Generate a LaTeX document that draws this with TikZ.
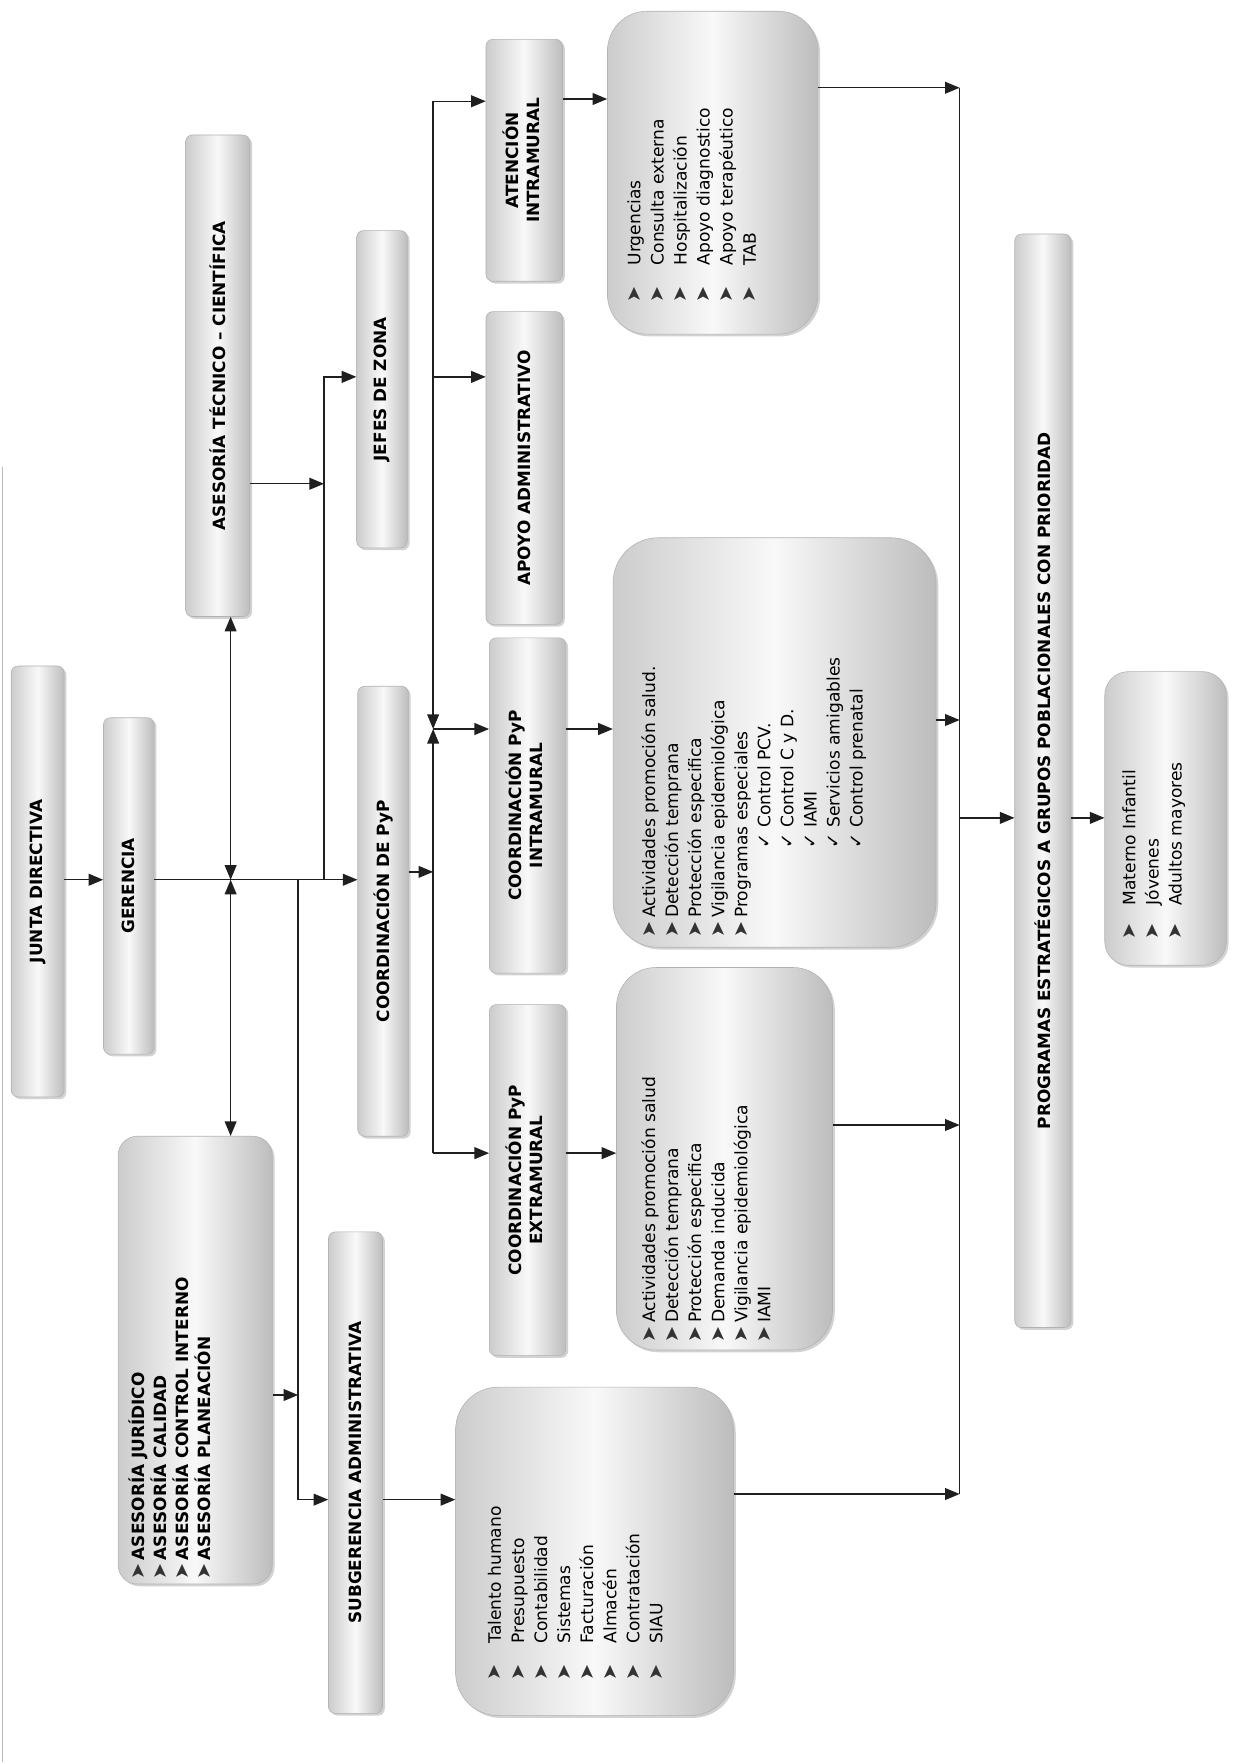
\documentclass[tikz,border=0pt]{standalone}
\usepackage{fontspec}
\setmainfont{DejaVu Sans}
\usepackage{graphicx}
\usetikzlibrary{arrows.meta,shadows}
\newcommand\hfont{\fontsize{15}{19}\selectfont\bfseries}
\newcommand\lfont{\fontsize{15.2}{20.5}\selectfont}
\newcommand\blt{\makebox[12pt][c]{\fontsize{17}{17}\selectfont\color{black!80}➤}}
\newcommand\chk{\makebox[12pt][c]{\fontsize{16}{16}\selectfont ✓}}
\begin{document}
\begin{tikzpicture}[x=1pt,y=-1pt,
 hbox/.style={draw=gray!60, line width=0.5pt, rounded corners=6pt, left color=gray!40, right color=gray!52, middle color=gray!5, inner sep=0pt, drop shadow={shadow xshift=2pt,shadow yshift=-2pt,opacity=0.35}},
 lbox/.style={hbox, rounded corners=#1},
 conn/.style={line width=1.3pt, black!88, -{Triangle[length=13pt,width=10.5pt]}},
 conn2/.style={line width=1.3pt, black!88, {Triangle[length=13pt,width=10.5pt]}-{Triangle[length=13pt,width=10.5pt]}},
 plain/.style={line width=1.3pt, black!88},
 txt/.style={anchor=south west, inner sep=0pt},
]
\fill[white] (0,0) rectangle (1097,1568);
\useasboundingbox (0,0) rectangle (1097,1568);
\draw[gray!55, line width=0.8pt] (2,415) -- (2,1566);

% header boxes
\node[hbox, minimum width=47pt, minimum height=383pt] (jd) at (33.5,783.5) {\rotatebox{90}{\hfont JUNTA DIRECTIVA}};
\node[hbox, minimum width=45pt, minimum height=299pt] (ger) at (114.5,787.5) {\rotatebox{90}{\hfont GERENCIA}};
\node[hbox, minimum width=57pt, minimum height=428pt] (atc) at (193.5,334) {\rotatebox{90}{\hfont ASESORÍA TÉCNICO – CIENTÍFICA}};
\node[hbox, minimum width=45pt, minimum height=282pt] (jz) at (339.5,346) {\rotatebox{90}{\hfont JEFES DE ZONA}};
\node[hbox, minimum width=45pt, minimum height=400pt] (cdp) at (340.5,810) {\rotatebox{90}{\hfont COORDINACIÓN DE PyP}};
\node[hbox, minimum width=48pt, minimum height=428pt] (sub) at (316,1309) {\rotatebox{90}{\hfont SUBGERENCIA ADMINISTRATIVA}};
\node[hbox, minimum width=68pt, minimum height=215pt] (ati) at (466,142.5) {\rotatebox{90}{\hfont\begin{tabular}{@{}c@{}}ATENCIÓN\\INTRAMURAL\end{tabular}}};
\node[hbox, minimum width=68pt, minimum height=278pt] (apo) at (466,416) {\rotatebox{90}{\hfont APOYO ADMINISTRATIVO}};
\node[hbox, minimum width=68pt, minimum height=298pt] (cpi) at (469,716) {\rotatebox{90}{\hfont\begin{tabular}{@{}c@{}}COORDINACIÓN PyP\\INTRAMURAL\end{tabular}}};
\node[hbox, minimum width=68pt, minimum height=312pt] (cpe) at (469,1049) {\rotatebox{90}{\hfont\begin{tabular}{@{}c@{}}COORDINACIÓN PyP\\EXTRAMURAL\end{tabular}}};
\node[hbox, minimum width=50pt, minimum height=972pt] (prog) at (927,694) {\rotatebox{90}{\hfont PROGRAMAS ESTRATÉGICOS A GRUPOS POBLACIONALES CON PRIORIDAD}};

% list boxes
\node[lbox=17pt, minimum width=137pt, minimum height=398pt] (ase) at (173.5,1209) {};
\node[lbox=35pt, minimum width=187pt, minimum height=287pt] (urg) at (633.5,153.5) {};
\node[lbox=40pt, minimum width=287pt, minimum height=364pt] (intl) at (688.5,660) {};
\node[lbox=35pt, minimum width=192pt, minimum height=340pt] (extl) at (644,1030) {};
\node[lbox=38pt, minimum width=247pt, minimum height=292pt] (tal) at (528.5,1379) {};
\node[lbox=21pt, minimum width=108pt, minimum height=261pt] (mat) at (1036,727.5) {};

% list texts
\node[txt] (aset) at (114,1403) {\rotatebox{90}{\fontsize{15}{19.5}\selectfont\bfseries\begin{tabular}{@{}l@{}}
\blt\hspace*{4pt}ASESORÍA JURÍDICO\\
\blt\hspace*{4pt}ASESORÍA CALIDAD\\
\blt\hspace*{4pt}ASESORÍA CONTROL INTERNO\\
\blt\hspace*{4pt}ASESORÍA PLANEACIÓN\end{tabular}}};
\node[txt] (urgt) at (554.75,268) {\rotatebox{90}{\lfont\begin{tabular}{@{}l@{}}
\blt\hspace*{20pt}Urgencias\\
\blt\hspace*{20pt}Consulta externa\\
\blt\hspace*{20pt}Hospitalización\\
\blt\hspace*{20pt}Apoyo diagnostico\\
\blt\hspace*{20pt}Apoyo terapéutico\\
\blt\hspace*{20pt}TAB\end{tabular}}};
\node[txt] (intt) at (567.75,832) {\rotatebox{90}{\lfont\begin{tabular}{@{}l@{}}
\blt\hspace*{4pt}Actividades promoción salud.\\
\blt\hspace*{4pt}Detección temprana\\
\blt\hspace*{4pt}Protección especifica\\
\blt\hspace*{4pt}Vigilancia epidemiológica\\
\blt\hspace*{4pt}Programas especiales\\
\hspace*{78pt}\chk\hspace*{6pt}Control PCV.\\
\hspace*{78pt}\chk\hspace*{6pt}Control C y D.\\
\hspace*{78pt}\chk\hspace*{6pt}IAMI\\
\hspace*{78pt}\chk\hspace*{6pt}Servicios amigables\\
\hspace*{78pt}\chk\hspace*{6pt}Control prenatal\end{tabular}}};
\node[txt] (extt) at (567.75,1192) {\rotatebox{90}{\lfont\begin{tabular}{@{}l@{}}
\blt\hspace*{4pt}Actividades promoción salud\\
\blt\hspace*{4pt}Detección temprana\\
\blt\hspace*{4pt}Protección especifica\\
\blt\hspace*{4pt}Demanda inducida\\
\blt\hspace*{4pt}Vigilancia epidemiológica\\
\blt\hspace*{4pt}IAMI\end{tabular}}};
\node[txt] (talt) at (430.75,1493) {\rotatebox{90}{\lfont\begin{tabular}{@{}l@{}}
\blt\hspace*{20pt}Talento humano\\
\blt\hspace*{20pt}Presupuesto\\
\blt\hspace*{20pt}Contabilidad\\
\blt\hspace*{20pt}Sistemas\\
\blt\hspace*{20pt}Facturación\\
\blt\hspace*{20pt}Almacén\\
\blt\hspace*{20pt}Contratación\\
\blt\hspace*{20pt}SIAU\end{tabular}}};
\node[txt] (matt) at (994.75,834) {\rotatebox{90}{\lfont\begin{tabular}{@{}l@{}}
\blt\hspace*{17pt}Materno Infantil\\
\blt\hspace*{17pt}Jóvenes\\
\blt\hspace*{17pt}Adultos mayores\end{tabular}}};

% junction coordinates
\coordinate (m0) at (205,782);
\coordinate (mj) at (288,782);
\coordinate (ms) at (265,782);
\coordinate (jz0) at (288,335);
\coordinate (a1) at (288,430);
\coordinate (a2) at (265,1240);
\coordinate (s1) at (265,1333);
\coordinate (c1) at (385,775);
\coordinate (v1) at (385,90);
\coordinate (v3) at (385,335);
\coordinate (vj) at (385,648);
\coordinate (v2) at (385,1025);
\coordinate (u0) at (500,88);
\coordinate (r1) at (853,78);
\coordinate (r3) at (853,640);
\coordinate (rp) at (853,727);
\coordinate (r4) at (853,1000);
\coordinate (r2) at (853,1328);

% connectors
\draw[conn] (jd.east |- m0) -- (ger.west |- m0);
\draw[conn] (ger.east |- m0) -- (cdp.west |- m0);
\draw[conn2] (atc.south -| m0) -- (m0);
\draw[conn2] (m0) -- (ase.north -| m0);
\draw[conn] (mj) -- (jz0) -- (jz.west |- jz0);
\draw[conn] (atc.east |- a1) -- (a1);
\draw[conn] (ms) -- (s1) -- (sub.west |- s1);
\draw[conn] (ase.east |- a2) -- (a2);
\draw[conn] (sub.east |- s1) -- (tal.west |- s1);
\draw[conn] (cdp.east |- c1) -- (c1);
\draw[conn] (v1) -- (vj);
\draw[conn] (v2) -- (vj);
\draw[conn] (v1) -- (ati.west |- v1);
\draw[conn] (v3) -- (apo.west |- v3);
\draw[conn] (vj) -- (cpi.west |- vj);
\draw[conn] (v2) -- (cpe.west |- v2);
\draw[conn] (ati.east |- u0) -- (urg.west |- u0);
\draw[conn] (cpi.east |- vj) -- (intl.west |- vj);
\draw[conn] (cpe.east |- v2) -- (extl.west |- v2);
\draw[plain] (r1) -- (r2);
\draw[conn] (urg.east |- r1) -- (r1);
\draw[conn] (intl.east |- r3) -- (r3);
\draw[conn] (extl.east |- r4) -- (r4);
\draw[conn] (tal.east |- r2) -- (r2);
\draw[conn] (rp) -- (prog.west |- rp);
\draw[conn] (prog.east |- rp) -- (mat.west |- rp);
\end{tikzpicture}
\end{document}
